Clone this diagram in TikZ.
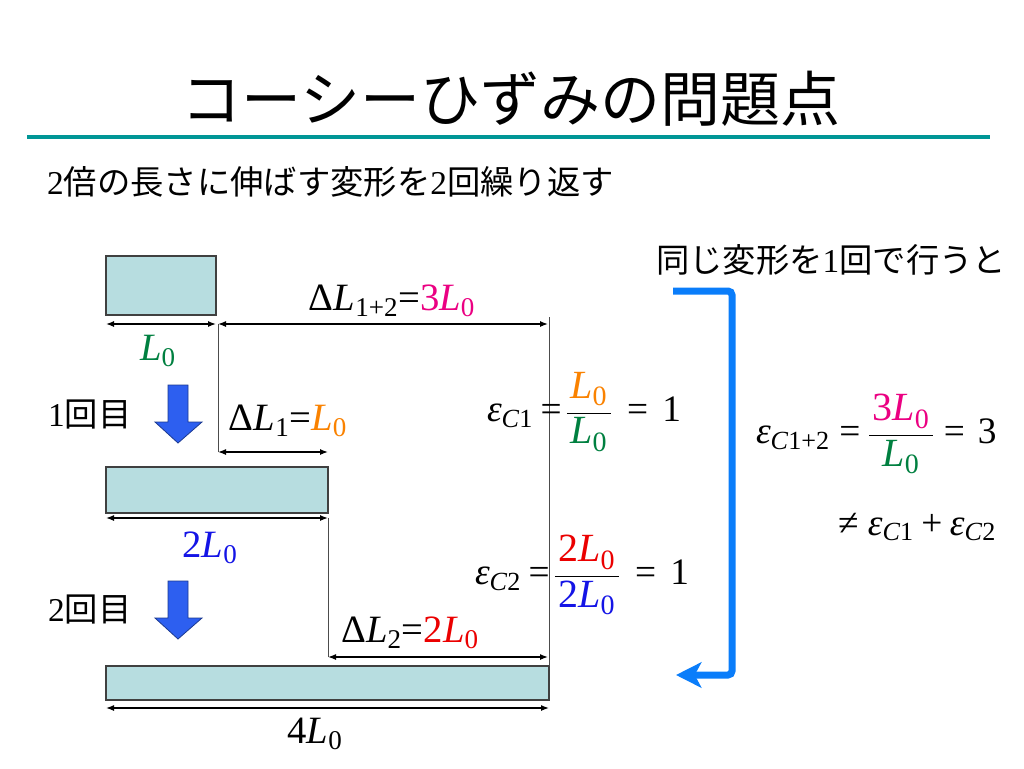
\documentclass[tikz,border=0pt]{standalone}
\usepackage{fontspec}
\setmainfont{Liberation Serif}
\newfontfamily\cjk{Noto Sans CJK JP}
\usetikzlibrary{arrows.meta}
\definecolor{barfill}{RGB}{183,221,224}
\definecolor{lineteal}{RGB}{0,150,150}
\definecolor{cgreen}{RGB}{0,128,64}
\definecolor{corange}{RGB}{250,130,0}
\definecolor{cmag}{RGB}{235,0,130}
\definecolor{cred}{RGB}{235,0,0}
\definecolor{cblue}{RGB}{20,20,230}
\definecolor{bracketblue}{RGB}{10,125,250}
\definecolor{blockblue}{RGB}{45,95,240}
\newcommand\Lz{\textit{L}\textsubscript{0}}
\newcommand\Eps[1]{\textit{ε}\textsubscript{#1}}
\newcommand\FracPart[1]{\mbox{\fontsize{30}{33}\selectfont\hspace{2.5pt}#1\hspace{2.5pt}}}
\newcommand\Fr[2]{$\displaystyle\frac{\FracPart{#1}}{\FracPart{#2}}$}
\begin{document}
\begin{tikzpicture}[x=0.75pt,y=-0.75pt,
  txt/.style={inner sep=0pt, outer sep=0pt},
  jp/.style={txt, font=\fontsize{25}{28}\selectfont},
  lab/.style={txt, font=\fontsize{29}{32}\selectfont},
  frm/.style={txt, font=\fontsize{28}{31}\selectfont},
  bar/.style={draw=black!75, line width=1pt, fill=barfill, inner sep=0pt, outer sep=0pt, anchor=north west},
  dim/.style={line width=1pt, {Latex[length=6pt,width=4.5pt]}-{Latex[length=6pt,width=4.5pt]}},
  ext/.style={line width=0.75pt, black!70},
  blockarrow/.style={fill=blockblue, draw=blockblue!60!black, line width=0.6pt, line join=miter},
  bracket/.style={draw=bracketblue, line width=5.25pt, rounded corners=3pt, -{Stealth[length=19pt,width=19pt,inset=5pt]}}
]
\fill[white] (0,0) rectangle (1024,768);
\useasboundingbox (0,0) rectangle (1024,768);

% title
\node[txt, font=\fontsize{45}{50}\selectfont\cjk, anchor=base] (title) at (511,121) {コーシーひずみの問題点};
\coordinate (tl) at (27,137);
\coordinate (tr) at (990,137);
\draw[line width=3.5pt, lineteal] (tl) -- (tr);

\node[jp, anchor=base west] (sub) at (47,194) {2{\cjk 倍の長さに伸ばす変形を}2{\cjk 回繰り返す}};

% bars
\node[bar, minimum width=82.5pt, minimum height=44.25pt] (bar1) at (106,256) {};
\node[bar, minimum width=166.5pt, minimum height=34.5pt] (bar2) at (106,467) {};
\node[bar, minimum width=332.25pt, minimum height=25.5pt] (bar3) at (106,666) {};

% dimension coordinates
\coordinate (a1l) at (106,324);
\coordinate (a1r) at (216,324);
\coordinate (a12l) at (218,324);
\coordinate (a12r) at (548,324);
\coordinate (v1b) at (218,452);
\coordinate (a2r) at (328,452);
\coordinate (v2t) at (549,317);
\coordinate (v2b) at (549,666);
\coordinate (b2l) at (106,518);
\coordinate (b2r) at (328,518);
\coordinate (v3b) at (328,657);
\coordinate (d2r) at (548,657);
\coordinate (b3l) at (106,708);
\coordinate (b3r) at (549,708);

\draw[ext] (a12l) -- (v1b);
\draw[ext] (v2t) -- (v2b);
\draw[ext] (b2r) -- (v3b);

\draw[dim] (a1l) -- (a1r);
\draw[dim] (a12l) -- (a12r);
\draw[dim] (v1b) -- (a2r);
\draw[dim] (b2l) -- (b2r);
\draw[dim] (v3b) -- (d2r);
\draw[dim] (b3l) -- (b3r);

% labels
\node[lab, anchor=base, text=cgreen] (lL0) at (158,360) {\Lz};
\node[lab, anchor=base] (lD12) at (392,310) {Δ\textit{L}\textsubscript{1+2}=\textcolor{cmag}{3\Lz}};
\node[lab, anchor=base] (lD1) at (288,430) {Δ\textit{L}\textsubscript{1}=\textcolor{corange}{\Lz}};
\node[lab, anchor=base, text=cblue] (l2L0) at (210,557) {2\Lz};
\node[lab, anchor=base] (lD2) at (410,642) {Δ\textit{L}\textsubscript{2}=\textcolor{cred}{2\Lz}};
\node[lab, anchor=base] (l4L0) at (315,743) {4\Lz};

% step labels and block arrows
\node[jp, anchor=base west] (s1) at (48,426) {1{\cjk 回目}};
\node[jp, anchor=base west] (s2) at (48,621) {2{\cjk 回目}};
\draw[blockarrow] (168,385) -- (188,385) -- (188,422) -- (202,422) -- (178,443) -- (155,422) -- (168,422) -- cycle;
\draw[blockarrow] (168,581) -- (188,581) -- (188,618) -- (202,618) -- (178,639) -- (155,618) -- (168,618) -- cycle;

% formulas
\node[frm, anchor=west] (e1) at (487,412) {\Eps{\textit{C}1}\hspace{0.2em}=\hspace{0.1em}\Fr{\color{corange}\Lz}{\color{cgreen}\Lz}\hspace{0.4em}=\hspace{0.38em}1};
\node[frm, anchor=west] (e2) at (475,575) {\Eps{\textit{C}2}\hspace{0.2em}=\hspace{0.1em}\Fr{\color{cred}2\Lz}{\color{cblue}2\Lz}\hspace{0.4em}=\hspace{0.38em}1};
\node[frm, anchor=west] (e12) at (756,434) {\Eps{\textit{C}1+2}\hspace{0.25em}=\hspace{0.2em}\Fr{\color{cmag}3\Lz}{\color{cgreen}\Lz}\hspace{0.25em}=\hspace{0.35em}3};
\node[frm, anchor=west] (ne) at (838,527) {≠\hspace{0.25em}\Eps{\textit{C}1}\hspace{0.2em}+\hspace{0.2em}\Eps{\textit{C}2}};

% bracket arrow
\node[jp, anchor=base west] (same) at (656,272) {{\cjk 同じ変形を}1{\cjk 回で行うと}};
\coordinate (bs) at (673,291);
\coordinate (bc1) at (732,291);
\coordinate (bc2) at (732,675);
\coordinate (be) at (676,675);
\draw[bracket] (bs) -- (bc1) -- (bc2) -- (be);
\end{tikzpicture}
\end{document}
